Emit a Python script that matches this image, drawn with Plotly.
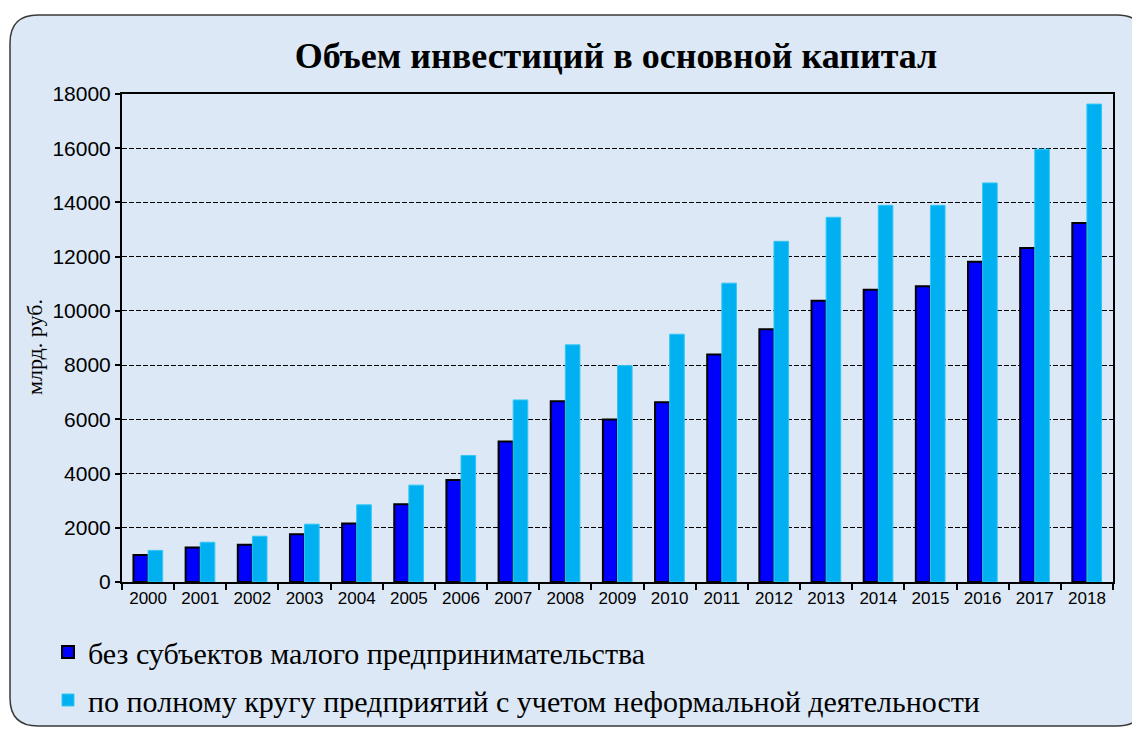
import plotly.graph_objects as go

years = ["2000", "2001", "2002", "2003", "2004", "2005", "2006", "2007", "2008", "2009",
         "2010", "2011", "2012", "2013", "2014", "2015", "2016", "2017", "2018"]
without_small = [1000, 1268, 1378, 1762, 2155, 2871, 3758, 5185, 6663, 5998,
                 6626, 8389, 9324, 10373, 10780, 10913, 11814, 12317, 13241]
full_circle = [1165, 1467, 1689, 2132, 2845, 3573, 4667, 6715, 8747, 7982,
               9139, 11024, 12565, 13452, 13895, 13895, 14719, 15964, 17628]

name_a = "без субъектов малого предпринимательства"
name_b = "по полному кругу предприятий с учетом неформальной деятельности"
title_text = "Объем инвестиций в основной капитал"
y_title = "млрд. руб."

OFF = 8  # default body margin of the html page
W, H = 1140 - OFF, 729 - OFF
L, R, T, B = 122 - OFF, 1113 - OFF, 94 - OFF, 582 - OFF  # plot area in figure pixels


def px(xp):
    return (xp - OFF - L) / (R - L)


def py(yp):
    return (B - (yp - OFF)) / (B - T)


fig = go.Figure()
fig.add_trace(go.Bar(x=years, y=without_small, name=name_a,
                     marker=dict(color="#0000ff", line=dict(color="#000000", width=2)),
                     legendgroup="a"))
fig.add_trace(go.Bar(x=years, y=full_circle, name=name_b,
                     marker=dict(color="#00b0f0", line=dict(color="#33c6f5", width=1)),
                     legendgroup="b"))

# rounded background box (page pixel coordinates)
x0, x1, y0, y1, r = 10, 1145, 15, 726, 28
path = (f"M {px(x0)},{py(y0 + r)} "
        f"Q {px(x0)},{py(y0)} {px(x0 + r)},{py(y0)} "
        f"L {px(x1 - r)},{py(y0)} "
        f"Q {px(x1)},{py(y0)} {px(x1)},{py(y0 + r)} "
        f"L {px(x1)},{py(y1 - r)} "
        f"Q {px(x1)},{py(y1)} {px(x1 - r)},{py(y1)} "
        f"L {px(x0 + r)},{py(y1)} "
        f"Q {px(x0)},{py(y1)} {px(x0)},{py(y1 - r)} Z")

fig.update_layout(
    width=W, height=H,
    margin=dict(l=L, r=W - R, t=T, b=H - B, autoexpand=False),
    paper_bgcolor="#ffffff",
    plot_bgcolor="#ffffff",
    barmode="group",
    bargap=0.44,
    bargroupgap=0.0,
    showlegend=True,
    hovermode=False,
    title=dict(text=title_text, x=(616 - OFF) / W, xanchor="center",
               y=1 - (55 - OFF) / H, yanchor="middle",
               font=dict(family="Liberation Serif", size=36, color="#000000", weight="bold")),
    legend=dict(orientation="v", x=px(48), xanchor="left", y=py(626), yanchor="top",
                font=dict(family="Liberation Serif", size=30, color="#000000"),
                bgcolor="rgba(0,0,0,0)", traceorder="grouped", tracegroupgap=6,
                itemwidth=30, borderwidth=0),
    shapes=[dict(type="path", path=path, xref="paper", yref="paper",
                 fillcolor="#dce8f5", line=dict(color="#3a3a3a", width=1.5), layer="below")],
    annotations=[dict(text=y_title, xref="paper", yref="paper", x=px(34), y=py(347),
                      xanchor="center", yanchor="middle", textangle=-90, showarrow=False,
                      font=dict(family="Liberation Serif", size=22, color="#000000"))],
    font=dict(family="Liberation Sans", color="#000000"),
)

fig.update_xaxes(
    showline=True, linecolor="#000000", linewidth=2, mirror=True,
    ticks="outside", tickson="boundaries", ticklen=6, tickcolor="#000000", tickwidth=1.5,
    tickfont=dict(family="Liberation Sans", size=17, color="#000000"),
    showgrid=False,
)
fig.update_yaxes(
    range=[0, 18000], dtick=2000, tickformat="d",
    showline=True, linecolor="#000000", linewidth=2, mirror=True,
    ticks="outside", ticklen=5, tickcolor="#000000", tickwidth=1.5,
    tickfont=dict(family="Liberation Sans", size=21, color="#000000"),
    showgrid=True, gridcolor="#000000", gridwidth=1, griddash="5px,2px",
    zeroline=False,
)

fig.write_html("out.html")
